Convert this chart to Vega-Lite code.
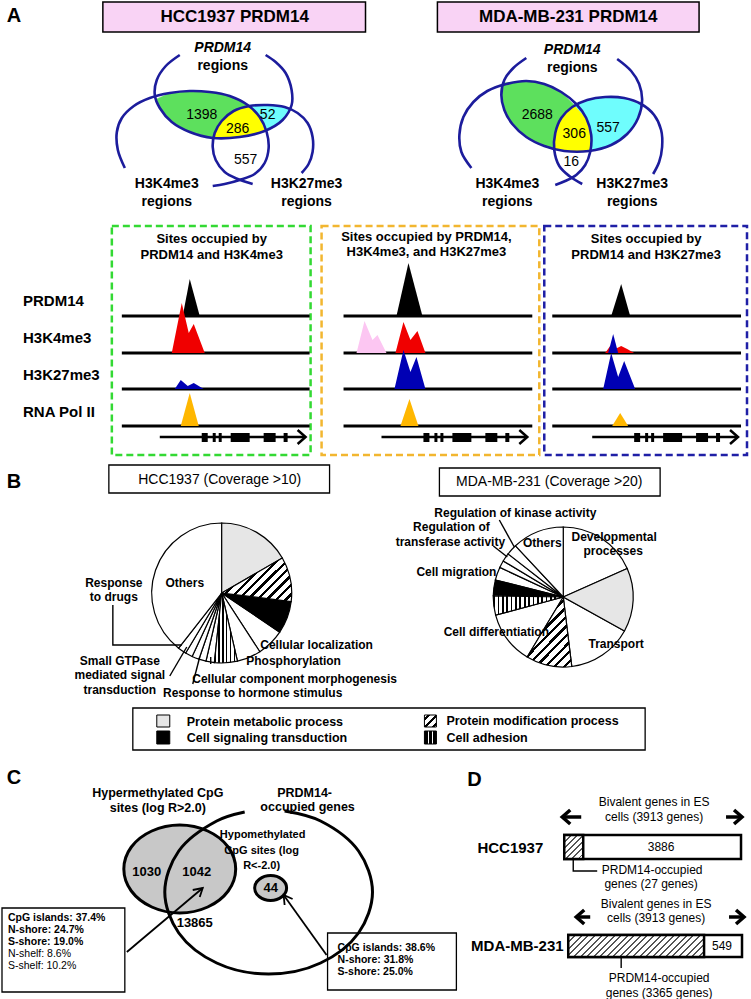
{
"$schema": "https://vega.github.io/schema/vega-lite/v6.json",
"width": 751, "height": 999,
"autosize": {"type": "fit", "contains": "padding"},
"padding": 0,
"background": "white",
"config": {"view": {"stroke": null}, "font": "Liberation Sans"},
"datasets": {
"tx": [
{"t":"A","x":14,"y":16,"k":"A"},{"t":"B","x":14,"y":482,"k":"A"},{"t":"C","x":14,"y":778,"k":"A"},{"t":"D","x":475,"y":780,"k":"A"},
{"t":"HCC1937 PRDM14","x":235,"y":17,"k":"T"},{"t":"MDA-MB-231 PRDM14","x":569,"y":17,"k":"T"},
{"t":"PRDM14","x":223,"y":48,"k":"VI"},{"t":"PRDM14","x":573,"y":50,"k":"VI"},
{"t":"regions","x":223,"y":66,"k":"VB"},{"t":"regions","x":573,"y":68,"k":"VB"},
{"t":"H3K4me3","x":167,"y":184,"k":"VB"},{"t":"regions","x":167,"y":202,"k":"VB"},
{"t":"H3K27me3","x":307,"y":184,"k":"VB"},{"t":"regions","x":307,"y":202,"k":"VB"},
{"t":"H3K4me3","x":508,"y":184,"k":"VB"},{"t":"regions","x":508,"y":202,"k":"VB"},
{"t":"H3K27me3","x":633,"y":184,"k":"VB"},{"t":"regions","x":633,"y":202,"k":"VB"},
{"t":"1398","x":202,"y":115,"k":"VN"},{"t":"286","x":238,"y":129,"k":"VN"},{"t":"52","x":268,"y":115,"k":"VN"},{"t":"557","x":246,"y":160,"k":"VN"},
{"t":"2688","x":538,"y":115,"k":"VN"},{"t":"306","x":575,"y":134,"k":"VN"},{"t":"557","x":609,"y":128,"k":"VN"},{"t":"16","x":572,"y":162,"k":"VN"},
{"t":"Sites occupied by","x":212,"y":239,"k":"ST"},{"t":"PRDM14 and H3K4me3","x":212,"y":255,"k":"ST"},
{"t":"Sites occupied by PRDM14,","x":427,"y":237,"k":"ST"},{"t":"H3K4me3, and H3K27me3","x":427,"y":252,"k":"ST"},
{"t":"Sites occupied by","x":647,"y":239,"k":"ST"},{"t":"PRDM14 and H3K27me3","x":647,"y":255,"k":"ST"},
{"t":"PRDM14","x":23,"y":301,"k":"TL"},{"t":"H3K4me3","x":23,"y":338,"k":"TL"},{"t":"H3K27me3","x":23,"y":375,"k":"TL"},{"t":"RNA Pol II","x":23,"y":412,"k":"TL"},
{"t":"HCC1937  (Coverage >10)","x":220,"y":480,"k":"BB"},{"t":"MDA-MB-231 (Coverage >20)","x":550,"y":482,"k":"BB"},
{"t":"Others","x":185,"y":583,"k":"PL"},{"t":"Response","x":114,"y":583,"k":"PL"},{"t":"to drugs","x":114,"y":597,"k":"PL"},
{"t":"Cellular localization","x":317,"y":645,"k":"PL"},{"t":"Phosphorylation","x":294,"y":661,"k":"PL"},
{"t":"Small GTPase","x":120,"y":661,"k":"PL"},{"t":"mediated signal","x":120,"y":675,"k":"PL"},{"t":"transduction","x":120,"y":690,"k":"PL"},
{"t":"Cellular component morphogenesis","x":295,"y":679,"k":"PL"},{"t":"Response to hormone stimulus","x":253,"y":693,"k":"PL"},
{"t":"Regulation of kinase activity","x":516,"y":513,"k":"PL"},{"t":"Regulation of","x":452,"y":527,"k":"PL"},{"t":"transferase activity","x":451,"y":542,"k":"PL"},
{"t":"Others","x":543,"y":543,"k":"PL"},{"t":"Developmental","x":615,"y":537,"k":"PL"},{"t":"processes","x":614,"y":551,"k":"PL"},
{"t":"Cell migration","x":457,"y":572,"k":"PL"},{"t":"Cell differentiation","x":497,"y":632,"k":"PL"},{"t":"Transport","x":617,"y":644,"k":"PL"},
{"t":"Protein metabolic process","x":187,"y":722,"k":"LG"},{"t":"Cell signaling transduction","x":187,"y":738,"k":"LG"},
{"t":"Protein modification process","x":447,"y":721,"k":"LG"},{"t":"Cell adhesion","x":447,"y":738,"k":"LG"},
{"t":"Hypermethylated CpG","x":158,"y":793,"k":"CH"},{"t":"sites (log R>2.0)","x":158,"y":808,"k":"CH"},
{"t":"PRDM14-","x":305,"y":793,"k":"CH"},{"t":"occupied genes","x":308,"y":807,"k":"CH"},
{"t":"Hypomethylated","x":263,"y":835,"k":"CS"},{"t":"CpG sites (log","x":262,"y":851,"k":"CS"},{"t":"R<-2.0)","x":262,"y":866,"k":"CS"},
{"t":"1030","x":147,"y":872,"k":"CN"},{"t":"1042","x":197,"y":872,"k":"CN"},{"t":"13865","x":195,"y":923,"k":"CN"},{"t":"44","x":271,"y":888,"k":"CN"},
{"t":"CpG islands: 37.4%","x":8,"y":918,"k":"CB"},{"t":"N-shore: 24.7%","x":8,"y":930,"k":"CB"},{"t":"S-shore: 19.0%","x":8,"y":942,"k":"CB"},
{"t":"N-shelf: 8.6%","x":8,"y":954,"k":"CR"},{"t":"S-shelf: 10.2%","x":8,"y":966,"k":"CR"},
{"t":"CpG islands: 38.6%","x":338,"y":948,"k":"CB"},{"t":"N-shore: 31.8%","x":338,"y":960,"k":"CB"},{"t":"S-shore: 25.0%","x":338,"y":972,"k":"CB"},
{"t":"Bivalent genes in ES","x":655,"y":802,"k":"DR"},{"t":"cells (3913 genes)","x":655,"y":817,"k":"DR"},{"t":"3886","x":662,"y":847,"k":"DR"},
{"t":"PRDM14-occupied","x":653,"y":870,"k":"DR"},{"t":"genes (27 genes)","x":652,"y":884,"k":"DR"},
{"t":"Bivalent genes in ES","x":657,"y":904,"k":"DR"},{"t":"cells (3913 genes)","x":657,"y":918,"k":"DR"},{"t":"549","x":723,"y":946,"k":"DR"},
{"t":"PRDM14-occupied","x":660,"y":978,"k":"DR"},{"t":"genes (3365 genes)","x":660,"y":993,"k":"DR"},
{"t":"HCC1937","x":511,"y":848,"k":"DB"},{"t":"MDA-MB-231","x":518,"y":946,"k":"DB"}
],
"rc": [
{"k":"pink","x":103,"x2":366,"y":2,"y2":32},{"k":"pink","x":438,"x2":700,"y":2,"y2":32},
{"k":"dg","x":112,"x2":311,"y":226,"y2":455},{"k":"do","x":322,"x2":540,"y":226,"y2":455},{"k":"db","x":545,"x2":748,"y":226,"y2":455},
{"k":"box","x":109,"x2":330,"y":465,"y2":493},{"k":"box","x":440,"x2":661,"y":468,"y2":496},
{"k":"box","x":2,"x2":125,"y":908,"y2":992},{"k":"box","x":328,"x2":457,"y":933,"y2":990},
{"k":"lbox","x":133,"x2":646,"y":708,"y2":750},
{"k":"exon","x":202,"x2":208,"y":433,"y2":442},{"k":"exon","x":213,"x2":216,"y":433,"y2":442},{"k":"exon","x":219,"x2":222,"y":433,"y2":442},
{"k":"exon","x":231,"x2":250,"y":433,"y2":442},{"k":"exon","x":264,"x2":276,"y":433,"y2":442},{"k":"exon","x":284,"x2":288,"y":433,"y2":442},
{"k":"exon","x":424,"x2":430,"y":433,"y2":442},{"k":"exon","x":435,"x2":438,"y":433,"y2":442},{"k":"exon","x":441,"x2":444,"y":433,"y2":442},
{"k":"exon","x":453,"x2":472,"y":433,"y2":442},{"k":"exon","x":486,"x2":498,"y":433,"y2":442},{"k":"exon","x":506,"x2":510,"y":433,"y2":442},
{"k":"exon","x":635,"x2":641,"y":433,"y2":442},{"k":"exon","x":646,"x2":649,"y":433,"y2":442},{"k":"exon","x":652,"x2":655,"y":433,"y2":442},
{"k":"exon","x":664,"x2":683,"y":433,"y2":442},{"k":"exon","x":697,"x2":709,"y":433,"y2":442},{"k":"exon","x":717,"x2":721,"y":433,"y2":442},
{"k":"bar","x":565,"x2":742,"y":835,"y2":859},{"k":"bar","x":569,"x2":743,"y":935,"y2":957},
{"k":"dh1","x":565,"x2":584,"y":835,"y2":859},{"k":"dh2","x":569,"x2":705,"y":935,"y2":957},
{"k":"sdot","x":157,"x2":170,"y":715,"y2":727},{"k":"sblk","x":157,"x2":170,"y":731,"y2":744},
{"k":"shat","x":425,"x2":437,"y":715,"y2":727},{"k":"sstr","x":425,"x2":437,"y":731,"y2":744}
],
"rl": [
{"k":"trk","x":122,"x2":310,"y":316,"y2":316},{"k":"trk","x":122,"x2":310,"y":353,"y2":353},{"k":"trk","x":122,"x2":310,"y":389,"y2":389},{"k":"trk","x":122,"x2":310,"y":426,"y2":426},
{"k":"trk","x":344,"x2":533,"y":316,"y2":316},{"k":"trk","x":344,"x2":533,"y":353,"y2":353},{"k":"trk","x":344,"x2":533,"y":389,"y2":389},{"k":"trk","x":344,"x2":533,"y":426,"y2":426},
{"k":"trk","x":553,"x2":742,"y":316,"y2":316},{"k":"trk","x":553,"x2":742,"y":353,"y2":353},{"k":"trk","x":553,"x2":742,"y":389,"y2":389},{"k":"trk","x":553,"x2":742,"y":426,"y2":426},
{"k":"gene","x":160,"x2":305,"y":437,"y2":437},{"k":"gene","x":382,"x2":527,"y":437,"y2":437},{"k":"gene","x":593,"x2":738,"y":437,"y2":437},
{"k":"lead","x":170,"x2":187,"y":676,"y2":647},{"k":"lead","x":193,"x2":200,"y":684,"y2":657},{"k":"lead","x":211,"x2":211,"y":657,"y2":664},
{"k":"lead","x":500,"x2":515,"y":520,"y2":547},{"k":"lead","x":494,"x2":508,"y":546,"y2":557},{"k":"lead","x":622,"x2":622,"y":946,"y2":968},
{"k":"arr","x":127,"x2":203,"y":952,"y2":888},{"k":"arr","x":327,"x2":284,"y":955,"y2":895},
{"k":"darr","x":563,"x2":582,"y":817,"y2":817},{"k":"darr","x":727,"x2":743,"y":817,"y2":817},{"k":"darr","x":577,"x2":591,"y":917,"y2":917},{"k":"darr","x":730,"x2":745,"y":917,"y2":917}
],
"pl": [
{"s":"L1","o":1,"x":180,"y":55,"k":"v"},{"s":"L1","o":2,"x":166,"y":66,"k":"v"},{"s":"L1","o":3,"x":157,"y":80,"k":"v"},{"s":"L1","o":4,"x":155,"y":95,"k":"v"},{"s":"L1","o":5,"x":160,"y":108,"k":"v"},{"s":"L1","o":6,"x":172,"y":122,"k":"v"},{"s":"L1","o":7,"x":190,"y":132,"k":"v"},{"s":"L1","o":8,"x":213,"y":138,"k":"v"},{"s":"L1","o":9,"x":240,"y":137,"k":"v"},{"s":"L1","o":10,"x":265,"y":131,"k":"v"},{"s":"L1","o":11,"x":283,"y":120,"k":"v"},{"s":"L1","o":12,"x":292,"y":105,"k":"v"},{"s":"L1","o":13,"x":292,"y":90,"k":"v"},{"s":"L1","o":14,"x":286,"y":73,"k":"v"},{"s":"L1","o":15,"x":276,"y":62,"k":"v"},{"s":"L1","o":16,"x":266,"y":55,"k":"v"},
{"s":"L2","o":1,"x":125,"y":168,"k":"v"},{"s":"L2","o":2,"x":118,"y":150,"k":"v"},{"s":"L2","o":3,"x":117,"y":132,"k":"v"},{"s":"L2","o":4,"x":122,"y":118,"k":"v"},{"s":"L2","o":5,"x":134,"y":106,"k":"v"},{"s":"L2","o":6,"x":150,"y":98,"k":"v"},{"s":"L2","o":7,"x":170,"y":93,"k":"v"},{"s":"L2","o":8,"x":190,"y":91,"k":"v"},{"s":"L2","o":9,"x":210,"y":92,"k":"v"},{"s":"L2","o":10,"x":230,"y":96,"k":"v"},{"s":"L2","o":11,"x":248,"y":105,"k":"v"},{"s":"L2","o":12,"x":260,"y":117,"k":"v"},{"s":"L2","o":13,"x":267,"y":132,"k":"v"},{"s":"L2","o":14,"x":269,"y":148,"k":"v"},{"s":"L2","o":15,"x":265,"y":163,"k":"v"},{"s":"L2","o":16,"x":255,"y":174,"k":"v"},{"s":"L2","o":17,"x":240,"y":180,"k":"v"},{"s":"L2","o":18,"x":225,"y":184,"k":"v"},{"s":"L2","o":19,"x":213,"y":186,"k":"v"},
{"s":"L3","o":1,"x":253,"y":184,"k":"v"},{"s":"L3","o":2,"x":238,"y":179,"k":"v"},{"s":"L3","o":3,"x":225,"y":172,"k":"v"},{"s":"L3","o":4,"x":216,"y":160,"k":"v"},{"s":"L3","o":5,"x":213,"y":147,"k":"v"},{"s":"L3","o":6,"x":215,"y":133,"k":"v"},{"s":"L3","o":7,"x":222,"y":121,"k":"v"},{"s":"L3","o":8,"x":234,"y":111,"k":"v"},{"s":"L3","o":9,"x":250,"y":106,"k":"v"},{"s":"L3","o":10,"x":268,"y":105,"k":"v"},{"s":"L3","o":11,"x":285,"y":107,"k":"v"},{"s":"L3","o":12,"x":298,"y":113,"k":"v"},{"s":"L3","o":13,"x":308,"y":123,"k":"v"},{"s":"L3","o":14,"x":313,"y":137,"k":"v"},{"s":"L3","o":15,"x":313,"y":152,"k":"v"},{"s":"L3","o":16,"x":309,"y":164,"k":"v"},{"s":"L3","o":17,"x":302,"y":173,"k":"v"},
{"s":"R1","o":1,"x":527,"y":58,"k":"v"},{"s":"R1","o":2,"x":514,"y":68,"k":"v"},{"s":"R1","o":3,"x":505,"y":80,"k":"v"},{"s":"R1","o":4,"x":502,"y":95,"k":"v"},{"s":"R1","o":5,"x":505,"y":110,"k":"v"},{"s":"R1","o":6,"x":513,"y":124,"k":"v"},{"s":"R1","o":7,"x":527,"y":137,"k":"v"},{"s":"R1","o":8,"x":545,"y":146,"k":"v"},{"s":"R1","o":9,"x":565,"y":151,"k":"v"},{"s":"R1","o":10,"x":590,"y":151,"k":"v"},{"s":"R1","o":11,"x":612,"y":145,"k":"v"},{"s":"R1","o":12,"x":628,"y":134,"k":"v"},{"s":"R1","o":13,"x":639,"y":118,"k":"v"},{"s":"R1","o":14,"x":643,"y":100,"k":"v"},{"s":"R1","o":15,"x":640,"y":84,"k":"v"},{"s":"R1","o":16,"x":632,"y":71,"k":"v"},{"s":"R1","o":17,"x":618,"y":59,"k":"v"},
{"s":"R2","o":1,"x":472,"y":168,"k":"v"},{"s":"R2","o":2,"x":462,"y":152,"k":"v"},{"s":"R2","o":3,"x":460,"y":135,"k":"v"},{"s":"R2","o":4,"x":464,"y":117,"k":"v"},{"s":"R2","o":5,"x":474,"y":102,"k":"v"},{"s":"R2","o":6,"x":488,"y":91,"k":"v"},{"s":"R2","o":7,"x":507,"y":84,"k":"v"},{"s":"R2","o":8,"x":527,"y":81,"k":"v"},{"s":"R2","o":9,"x":545,"y":84,"k":"v"},{"s":"R2","o":10,"x":562,"y":92,"k":"v"},{"s":"R2","o":11,"x":577,"y":104,"k":"v"},{"s":"R2","o":12,"x":587,"y":118,"k":"v"},{"s":"R2","o":13,"x":592,"y":135,"k":"v"},{"s":"R2","o":14,"x":591,"y":152,"k":"v"},{"s":"R2","o":15,"x":586,"y":165,"k":"v"},{"s":"R2","o":16,"x":577,"y":175,"k":"v"},{"s":"R2","o":17,"x":566,"y":181,"k":"v"},{"s":"R2","o":18,"x":556,"y":185,"k":"v"},
{"s":"R3","o":1,"x":583,"y":184,"k":"v"},{"s":"R3","o":2,"x":570,"y":176,"k":"v"},{"s":"R3","o":3,"x":560,"y":166,"k":"v"},{"s":"R3","o":4,"x":555,"y":150,"k":"v"},{"s":"R3","o":5,"x":556,"y":133,"k":"v"},{"s":"R3","o":6,"x":562,"y":118,"k":"v"},{"s":"R3","o":7,"x":573,"y":107,"k":"v"},{"s":"R3","o":8,"x":588,"y":100,"k":"v"},{"s":"R3","o":9,"x":606,"y":97,"k":"v"},{"s":"R3","o":10,"x":625,"y":98,"k":"v"},{"s":"R3","o":11,"x":642,"y":104,"k":"v"},{"s":"R3","o":12,"x":655,"y":115,"k":"v"},{"s":"R3","o":13,"x":662,"y":130,"k":"v"},{"s":"R3","o":14,"x":663,"y":147,"k":"v"},{"s":"R3","o":15,"x":660,"y":162,"k":"v"},{"s":"R3","o":16,"x":654,"y":174,"k":"v"},
{"s":"Lg","o":1,"x":157,"y":99,"k":"g"},{"s":"Lg","o":2,"x":170,"y":93,"k":"g"},{"s":"Lg","o":3,"x":190,"y":91,"k":"g"},{"s":"Lg","o":4,"x":210,"y":92,"k":"g"},{"s":"Lg","o":5,"x":230,"y":96,"k":"g"},{"s":"Lg","o":6,"x":249,"y":105,"k":"g"},{"s":"Lg","o":7,"x":234,"y":111,"k":"g"},{"s":"Lg","o":8,"x":222,"y":121,"k":"g"},{"s":"Lg","o":9,"x":215,"y":133,"k":"g"},{"s":"Lg","o":10,"x":214,"y":138,"k":"g"},{"s":"Lg","o":11,"x":190,"y":132,"k":"g"},{"s":"Lg","o":12,"x":172,"y":122,"k":"g"},{"s":"Lg","o":13,"x":160,"y":108,"k":"g"},
{"s":"Ly","o":1,"x":249,"y":105,"k":"y"},{"s":"Ly","o":2,"x":260,"y":117,"k":"y"},{"s":"Ly","o":3,"x":266,"y":131,"k":"y"},{"s":"Ly","o":4,"x":240,"y":137,"k":"y"},{"s":"Ly","o":5,"x":214,"y":138,"k":"y"},{"s":"Ly","o":6,"x":215,"y":133,"k":"y"},{"s":"Ly","o":7,"x":222,"y":121,"k":"y"},{"s":"Ly","o":8,"x":234,"y":111,"k":"y"},
{"s":"Lc","o":1,"x":249,"y":105,"k":"c"},{"s":"Lc","o":2,"x":268,"y":105,"k":"c"},{"s":"Lc","o":3,"x":285,"y":107,"k":"c"},{"s":"Lc","o":4,"x":290,"y":110,"k":"c"},{"s":"Lc","o":5,"x":283,"y":120,"k":"c"},{"s":"Lc","o":6,"x":266,"y":131,"k":"c"},{"s":"Lc","o":7,"x":260,"y":117,"k":"c"},
{"s":"Rg","o":1,"x":504,"y":83,"k":"g"},{"s":"Rg","o":2,"x":527,"y":81,"k":"g"},{"s":"Rg","o":3,"x":545,"y":84,"k":"g"},{"s":"Rg","o":4,"x":562,"y":92,"k":"g"},{"s":"Rg","o":5,"x":575,"y":105,"k":"g"},{"s":"Rg","o":6,"x":563,"y":117,"k":"g"},{"s":"Rg","o":7,"x":556,"y":133,"k":"g"},{"s":"Rg","o":8,"x":555,"y":149,"k":"g"},{"s":"Rg","o":9,"x":545,"y":146,"k":"g"},{"s":"Rg","o":10,"x":527,"y":137,"k":"g"},{"s":"Rg","o":11,"x":513,"y":124,"k":"g"},{"s":"Rg","o":12,"x":505,"y":110,"k":"g"},{"s":"Rg","o":13,"x":502,"y":95,"k":"g"},
{"s":"Ry","o":1,"x":575,"y":105,"k":"y"},{"s":"Ry","o":2,"x":587,"y":118,"k":"y"},{"s":"Ry","o":3,"x":592,"y":135,"k":"y"},{"s":"Ry","o":4,"x":591,"y":151,"k":"y"},{"s":"Ry","o":5,"x":575,"y":151,"k":"y"},{"s":"Ry","o":6,"x":555,"y":149,"k":"y"},{"s":"Ry","o":7,"x":556,"y":133,"k":"y"},{"s":"Ry","o":8,"x":563,"y":117,"k":"y"},
{"s":"Rc","o":1,"x":575,"y":105,"k":"c"},{"s":"Rc","o":2,"x":588,"y":100,"k":"c"},{"s":"Rc","o":3,"x":606,"y":97,"k":"c"},{"s":"Rc","o":4,"x":625,"y":98,"k":"c"},{"s":"Rc","o":5,"x":642,"y":105,"k":"c"},{"s":"Rc","o":6,"x":639,"y":118,"k":"c"},{"s":"Rc","o":7,"x":628,"y":134,"k":"c"},{"s":"Rc","o":8,"x":612,"y":145,"k":"c"},{"s":"Rc","o":9,"x":591,"y":151,"k":"c"},{"s":"Rc","o":10,"x":592,"y":135,"k":"c"},{"s":"Rc","o":11,"x":587,"y":118,"k":"c"},
{"s":"cL","o":1,"x":298,"y":430,"k":"gene"},{"s":"cL","o":2,"x":306,"y":437,"k":"gene"},{"s":"cL","o":3,"x":298,"y":444,"k":"gene"},
{"s":"cO","o":1,"x":520,"y":430,"k":"gene"},{"s":"cO","o":2,"x":528,"y":437,"k":"gene"},{"s":"cO","o":3,"x":520,"y":444,"k":"gene"},
{"s":"cB","o":1,"x":731,"y":430,"k":"gene"},{"s":"cB","o":2,"x":739,"y":437,"k":"gene"},{"s":"cB","o":3,"x":731,"y":444,"k":"gene"},
{"s":"a1h","o":1,"x":193,"y":890,"k":"arr"},{"s":"a1h","o":2,"x":203,"y":888,"k":"arr"},{"s":"a1h","o":3,"x":200,"y":897,"k":"arr"},
{"s":"a2h","o":1,"x":285,"y":905,"k":"arr"},{"s":"a2h","o":2,"x":284,"y":895,"k":"arr"},{"s":"a2h","o":3,"x":293,"y":899,"k":"arr"},
{"s":"d1","o":1,"x":571,"y":810,"k":"darr"},{"s":"d1","o":2,"x":563,"y":817,"k":"darr"},{"s":"d1","o":3,"x":571,"y":824,"k":"darr"},
{"s":"d2","o":1,"x":735,"y":810,"k":"darr"},{"s":"d2","o":2,"x":743,"y":817,"k":"darr"},{"s":"d2","o":3,"x":735,"y":824,"k":"darr"},
{"s":"d3","o":1,"x":585,"y":910,"k":"darr"},{"s":"d3","o":2,"x":577,"y":917,"k":"darr"},{"s":"d3","o":3,"x":585,"y":924,"k":"darr"},
{"s":"d4","o":1,"x":737,"y":910,"k":"darr"},{"s":"d4","o":2,"x":745,"y":917,"k":"darr"},{"s":"d4","o":3,"x":737,"y":924,"k":"darr"},
{"s":"e1","o":1,"x":113,"y":605,"k":"lead"},{"s":"e1","o":2,"x":113,"y":645,"k":"lead"},{"s":"e1","o":3,"x":182,"y":645,"k":"lead"},
{"s":"e2","o":1,"x":574,"y":859,"k":"lead"},{"s":"e2","o":2,"x":574,"y":871,"k":"lead"},{"s":"e2","o":3,"x":598,"y":871,"k":"lead"},
{"s":"G","o":1,"x":236,"y":869,"k":"gell"},{"s":"G","o":2,"x":228.5,"y":891,"k":"gell"},{"s":"G","o":3,"x":208,"y":907,"k":"gell"},{"s":"G","o":4,"x":180,"y":913,"k":"gell"},{"s":"G","o":5,"x":152,"y":907,"k":"gell"},{"s":"G","o":6,"x":131.5,"y":891,"k":"gell"},{"s":"G","o":7,"x":124,"y":869,"k":"gell"},{"s":"G","o":8,"x":131.5,"y":847,"k":"gell"},{"s":"G","o":9,"x":152,"y":831,"k":"gell"},{"s":"G","o":10,"x":180,"y":825,"k":"gell"},{"s":"G","o":11,"x":208,"y":831,"k":"gell"},{"s":"G","o":12,"x":228.5,"y":847,"k":"gell"},
{"s":"S","o":1,"x":287,"y":888,"k":"sell"},{"s":"S","o":2,"x":282.3,"y":896.8,"k":"sell"},{"s":"S","o":3,"x":271,"y":900.5,"k":"sell"},{"s":"S","o":4,"x":259.7,"y":896.8,"k":"sell"},{"s":"S","o":5,"x":255,"y":888,"k":"sell"},{"s":"S","o":6,"x":259.7,"y":879.2,"k":"sell"},{"s":"S","o":7,"x":271,"y":875.5,"k":"sell"},{"s":"S","o":8,"x":282.3,"y":879.2,"k":"sell"},
{"s":"E","o":1,"x":245,"y":812,"k":"ell"},{"s":"E","o":2,"x":217,"y":821,"k":"ell"},{"s":"E","o":3,"x":179,"y":851,"k":"ell"},{"s":"E","o":4,"x":165,"y":892,"k":"ell"},{"s":"E","o":5,"x":179,"y":933,"k":"ell"},{"s":"E","o":6,"x":217,"y":963,"k":"ell"},{"s":"E","o":7,"x":269,"y":974,"k":"ell"},{"s":"E","o":8,"x":321,"y":963,"k":"ell"},{"s":"E","o":9,"x":359,"y":933,"k":"ell"},{"s":"E","o":10,"x":373,"y":892,"k":"ell"},{"s":"E","o":11,"x":359,"y":851,"k":"ell"},{"s":"E","o":12,"x":321,"y":821,"k":"ell"},{"s":"E","o":13,"x":285,"y":811,"k":"ell"}
],
"pk": [
{"s":"k1","c":"k","x":183,"y":316,"b":316},{"s":"k1","c":"k","x":190,"y":279,"b":316},{"s":"k1","c":"k","x":200,"y":316,"b":316},
{"s":"k2","c":"k","x":397,"y":316,"b":316},{"s":"k2","c":"k","x":409,"y":263,"b":316},{"s":"k2","c":"k","x":423,"y":316,"b":316},
{"s":"k3","c":"k","x":612,"y":316,"b":316},{"s":"k3","c":"k","x":622,"y":284,"b":316},{"s":"k3","c":"k","x":631,"y":316,"b":316},
{"s":"r1","c":"r","x":172,"y":353,"b":353},{"s":"r1","c":"r","x":182,"y":303,"b":353},{"s":"r1","c":"r","x":189,"y":333,"b":353},{"s":"r1","c":"r","x":194,"y":324,"b":353},{"s":"r1","c":"r","x":205,"y":353,"b":353},
{"s":"p2","c":"p","x":357,"y":353,"b":353},{"s":"p2","c":"p","x":365,"y":321,"b":353},{"s":"p2","c":"p","x":373,"y":340,"b":353},{"s":"p2","c":"p","x":378,"y":335,"b":353},{"s":"p2","c":"p","x":387,"y":353,"b":353},
{"s":"r2","c":"r","x":396,"y":353,"b":353},{"s":"r2","c":"r","x":404,"y":322,"b":353},{"s":"r2","c":"r","x":411,"y":340,"b":353},{"s":"r2","c":"r","x":418,"y":331,"b":353},{"s":"r2","c":"r","x":426,"y":353,"b":353},
{"s":"r3","c":"r","x":606,"y":353,"b":353},{"s":"r3","c":"r","x":611,"y":346,"b":353},{"s":"r3","c":"r","x":616,"y":349,"b":353},{"s":"r3","c":"r","x":622,"y":346,"b":353},{"s":"r3","c":"r","x":628,"y":349,"b":353},{"s":"r3","c":"r","x":635,"y":353,"b":353},
{"s":"b3a","c":"b","x":609,"y":353,"b":353},{"s":"b3a","c":"b","x":614,"y":334,"b":353},{"s":"b3a","c":"b","x":619,"y":353,"b":353},
{"s":"b1","c":"b","x":175,"y":389,"b":389},{"s":"b1","c":"b","x":181,"y":380,"b":389},{"s":"b1","c":"b","x":188,"y":386,"b":389},{"s":"b1","c":"b","x":194,"y":383,"b":389},{"s":"b1","c":"b","x":204,"y":389,"b":389},
{"s":"b2","c":"b","x":395,"y":389,"b":389},{"s":"b2","c":"b","x":404,"y":350,"b":389},{"s":"b2","c":"b","x":411,"y":372,"b":389},{"s":"b2","c":"b","x":417,"y":357,"b":389},{"s":"b2","c":"b","x":426,"y":389,"b":389},
{"s":"b3","c":"b","x":604,"y":389,"b":389},{"s":"b3","c":"b","x":612,"y":353,"b":389},{"s":"b3","c":"b","x":619,"y":377,"b":389},{"s":"b3","c":"b","x":625,"y":361,"b":389},{"s":"b3","c":"b","x":636,"y":389,"b":389},
{"s":"o1","c":"o","x":181,"y":426,"b":426},{"s":"o1","c":"o","x":190,"y":393,"b":426},{"s":"o1","c":"o","x":199,"y":426,"b":426},
{"s":"o2","c":"o","x":401,"y":426,"b":426},{"s":"o2","c":"o","x":410,"y":399,"b":426},{"s":"o2","c":"o","x":419,"y":426,"b":426},
{"s":"o3","c":"o","x":613,"y":426,"b":426},{"s":"o3","c":"o","x":621,"y":413,"b":426},{"s":"o3","c":"o","x":629,"y":426,"b":426}
],
"pie": [
{"pie":"L","x":222,"y":593,"a0":0,"a1":60,"p":"d"},{"pie":"L","x":222,"y":593,"a0":60,"a1":97,"p":"h"},{"pie":"L","x":222,"y":593,"a0":97,"a1":124,"p":"k"},
{"pie":"L","x":222,"y":593,"a0":124,"a1":147,"p":"w"},{"pie":"L","x":222,"y":593,"a0":147,"a1":167,"p":"w"},{"pie":"L","x":222,"y":593,"a0":167,"a1":186,"p":"s"},
{"pie":"L","x":222,"y":593,"a0":186,"a1":193,"p":"w"},{"pie":"L","x":222,"y":593,"a0":193,"a1":199,"p":"w"},{"pie":"L","x":222,"y":593,"a0":199,"a1":205,"p":"w"},
{"pie":"L","x":222,"y":593,"a0":205,"a1":211,"p":"w"},{"pie":"L","x":222,"y":593,"a0":211,"a1":218,"p":"w"},{"pie":"L","x":222,"y":593,"a0":218,"a1":360,"p":"w"},
{"pie":"R","x":564,"y":597,"a0":0,"a1":66,"p":"w"},{"pie":"R","x":564,"y":597,"a0":66,"a1":119,"p":"d"},{"pie":"R","x":564,"y":597,"a0":119,"a1":173,"p":"w"},
{"pie":"R","x":564,"y":597,"a0":173,"a1":211,"p":"h"},{"pie":"R","x":564,"y":597,"a0":211,"a1":255,"p":"w"},{"pie":"R","x":564,"y":597,"a0":255,"a1":271,"p":"s"},
{"pie":"R","x":564,"y":597,"a0":271,"a1":284,"p":"k"},{"pie":"R","x":564,"y":597,"a0":284,"a1":295,"p":"w"},{"pie":"R","x":564,"y":597,"a0":295,"a1":301,"p":"w"},
{"pie":"R","x":564,"y":597,"a0":301,"a1":308,"p":"w"},{"pie":"R","x":564,"y":597,"a0":308,"a1":317,"p":"w"},{"pie":"R","x":564,"y":597,"a0":317,"a1":360,"p":"w"}
]
},
"encoding": {
"x": {"field":"x","type":"quantitative","scale":{"domain":[0,751],"nice":false,"zero":false},"axis":null},
"y": {"field":"y","type":"quantitative","scale":{"domain":[0,999],"nice":false,"zero":false,"reverse":true},"axis":null}
},
"layer": [
{"data":{"name":"rc"},"transform":[{"filter":"datum.k=='pink'"}],"mark":{"type":"rect","fill":"#f9d3f5","stroke":"#000","strokeWidth":1.5},"encoding":{"x2":{"field":"x2"},"y2":{"field":"y2"}}},
{"data":{"name":"rc"},"transform":[{"filter":"datum.k=='dg'||datum.k=='do'||datum.k=='db'"}],"mark":{"type":"rect","filled":false,"strokeDash":[7,4],"strokeWidth":2.5},"encoding":{"x2":{"field":"x2"},"y2":{"field":"y2"},"stroke":{"field":"k","type":"nominal","scale":{"domain":["dg","do","db"],"range":["#33d933","#f2b630","#1f1fa6"]},"legend":null}}},
{"data":{"name":"rc"},"transform":[{"filter":"datum.k=='box'"}],"mark":{"type":"rect","fill":"#fff","stroke":"#000","strokeWidth":1.3},"encoding":{"x2":{"field":"x2"},"y2":{"field":"y2"}}},
{"data":{"name":"rc"},"transform":[{"filter":"datum.k=='lbox'"}],"mark":{"type":"rect","filled":false,"stroke":"#000","strokeWidth":1.3},"encoding":{"x2":{"field":"x2"},"y2":{"field":"y2"}}},
{"data":{"name":"rc"},"transform":[{"filter":"datum.k=='bar'"}],"mark":{"type":"rect","fill":"#fff","stroke":"#000","strokeWidth":2.5},"encoding":{"x2":{"field":"x2"},"y2":{"field":"y2"}}},
{"data":{"name":"pl"},"transform":[{"filter":"datum.k=='g'"}],"mark":{"type":"line","interpolate":"linear-closed","fill":"#5de05d","stroke":"#5de05d","strokeWidth":0.5},"encoding":{"order":{"field":"o","type":"quantitative"},"detail":{"field":"s"}}},
{"data":{"name":"pl"},"transform":[{"filter":"datum.k=='y'"}],"mark":{"type":"line","interpolate":"linear-closed","fill":"#ffff00","stroke":"#ffff00","strokeWidth":0.5},"encoding":{"order":{"field":"o","type":"quantitative"},"detail":{"field":"s"}}},
{"data":{"name":"pl"},"transform":[{"filter":"datum.k=='c'"}],"mark":{"type":"line","interpolate":"linear-closed","fill":"#6ffdfd","stroke":"#6ffdfd","strokeWidth":0.5},"encoding":{"order":{"field":"o","type":"quantitative"},"detail":{"field":"s"}}},
{"data":{"name":"pl"},"transform":[{"filter":"datum.k=='v'"}],"mark":{"type":"line","interpolate":"catmull-rom","color":"#1c1c9c","strokeWidth":2.6},"encoding":{"order":{"field":"o","type":"quantitative"},"detail":{"field":"s"}}},
{"data":{"name":"rl"},"transform":[{"filter":"datum.k=='trk'"}],"mark":{"type":"rule","color":"#000","strokeWidth":3},"encoding":{"x2":{"field":"x2"},"y2":{"field":"y2"}}},
{"data":{"name":"rl"},"transform":[{"filter":"datum.k=='gene'"}],"mark":{"type":"rule","color":"#000","strokeWidth":2.5},"encoding":{"x2":{"field":"x2"},"y2":{"field":"y2"}}},
{"data":{"name":"rc"},"transform":[{"filter":"datum.k=='exon'"}],"mark":{"type":"rect","fill":"#000"},"encoding":{"x2":{"field":"x2"},"y2":{"field":"y2"}}},
{"data":{"name":"pl"},"transform":[{"filter":"datum.k=='gene'"}],"mark":{"type":"line","color":"#000","strokeWidth":2.5},"encoding":{"order":{"field":"o","type":"quantitative"},"detail":{"field":"s"}}},
{"data":{"name":"pk"},"transform":[{"filter":"datum.c=='k'"}],"mark":{"type":"area","color":"#000"},"encoding":{"y":{"field":"y","type":"quantitative","stack":null,"scale":{"domain":[0,999],"nice":false,"zero":false,"reverse":true},"axis":null},"y2":{"field":"b"},"detail":{"field":"s"}}},
{"data":{"name":"pk"},"transform":[{"filter":"datum.c=='p'"}],"mark":{"type":"area","color":"#fcc6f2"},"encoding":{"y":{"field":"y","type":"quantitative","stack":null,"scale":{"domain":[0,999],"nice":false,"zero":false,"reverse":true},"axis":null},"y2":{"field":"b"},"detail":{"field":"s"}}},
{"data":{"name":"pk"},"transform":[{"filter":"datum.c=='r'"}],"mark":{"type":"area","color":"#f00000"},"encoding":{"y":{"field":"y","type":"quantitative","stack":null,"scale":{"domain":[0,999],"nice":false,"zero":false,"reverse":true},"axis":null},"y2":{"field":"b"},"detail":{"field":"s"}}},
{"data":{"name":"pk"},"transform":[{"filter":"datum.c=='b'"}],"mark":{"type":"area","color":"#0000b4"},"encoding":{"y":{"field":"y","type":"quantitative","stack":null,"scale":{"domain":[0,999],"nice":false,"zero":false,"reverse":true},"axis":null},"y2":{"field":"b"},"detail":{"field":"s"}}},
{"data":{"name":"pk"},"transform":[{"filter":"datum.c=='o'"}],"mark":{"type":"area","color":"#ffb700"},"encoding":{"y":{"field":"y","type":"quantitative","stack":null,"scale":{"domain":[0,999],"nice":false,"zero":false,"reverse":true},"axis":null},"y2":{"field":"b"},"detail":{"field":"s"}}},
{"data":{"name":"pie"},"transform":[{"filter":"datum.p=='w'"}],"mark":{"type":"arc","outerRadius":70,"fill":"#fff","stroke":"#000","strokeWidth":1.2},"encoding":{"theta":{"field":"a0","type":"quantitative","stack":null,"scale":{"domain":[0,360],"range":[0,6.283185]}},"theta2":{"field":"a1"}}},
{"data":{"name":"pie"},"transform":[{"filter":"datum.p=='d'"}],"mark":{"type":"arc","outerRadius":70,"fill":"#e6e6e6","stroke":"#000","strokeWidth":1.2},"encoding":{"theta":{"field":"a0","type":"quantitative","stack":null,"scale":{"domain":[0,360],"range":[0,6.283185]}},"theta2":{"field":"a1"}}},
{"data":{"name":"pie"},"transform":[{"filter":"datum.p=='k'"}],"mark":{"type":"arc","outerRadius":70,"fill":"#000","stroke":"#000","strokeWidth":1.2},"encoding":{"theta":{"field":"a0","type":"quantitative","stack":null,"scale":{"domain":[0,360],"range":[0,6.283185]}},"theta2":{"field":"a1"}}},
{"data":{"name":"pie"},"transform":[{"filter":"datum.p=='h'&&datum.pie=='L'"}],"mark":{"type":"arc","outerRadius":70,"stroke":"#000","strokeWidth":1.2,"fill":{"gradient":"linear","x1":0,"y1":0,"x2":1.17,"y2":0.73,"stops":[
{"offset":0,"color":"#000"},{"offset":0.029,"color":"#000"},{"offset":0.029,"color":"#fff"},{"offset":0.083,"color":"#fff"},
{"offset":0.083,"color":"#000"},{"offset":0.112,"color":"#000"},{"offset":0.112,"color":"#fff"},{"offset":0.167,"color":"#fff"},
{"offset":0.167,"color":"#000"},{"offset":0.196,"color":"#000"},{"offset":0.196,"color":"#fff"},{"offset":0.25,"color":"#fff"},
{"offset":0.25,"color":"#000"},{"offset":0.279,"color":"#000"},{"offset":0.279,"color":"#fff"},{"offset":0.333,"color":"#fff"},
{"offset":0.333,"color":"#000"},{"offset":0.362,"color":"#000"},{"offset":0.362,"color":"#fff"},{"offset":0.417,"color":"#fff"},
{"offset":0.417,"color":"#000"},{"offset":0.446,"color":"#000"},{"offset":0.446,"color":"#fff"},{"offset":0.5,"color":"#fff"},
{"offset":0.5,"color":"#000"},{"offset":0.529,"color":"#000"},{"offset":0.529,"color":"#fff"},{"offset":0.583,"color":"#fff"},
{"offset":0.583,"color":"#000"},{"offset":0.612,"color":"#000"},{"offset":0.612,"color":"#fff"},{"offset":0.667,"color":"#fff"},
{"offset":0.667,"color":"#000"},{"offset":0.696,"color":"#000"},{"offset":0.696,"color":"#fff"},{"offset":0.75,"color":"#fff"},
{"offset":0.75,"color":"#000"},{"offset":0.779,"color":"#000"},{"offset":0.779,"color":"#fff"},{"offset":0.833,"color":"#fff"},
{"offset":0.833,"color":"#000"},{"offset":0.862,"color":"#000"},{"offset":0.862,"color":"#fff"},{"offset":0.917,"color":"#fff"},
{"offset":0.917,"color":"#000"},{"offset":0.946,"color":"#000"},{"offset":0.946,"color":"#fff"},{"offset":1,"color":"#fff"}]}},
"encoding":{"theta":{"field":"a0","type":"quantitative","stack":null,"scale":{"domain":[0,360],"range":[0,6.283185]}},"theta2":{"field":"a1"}}},
{"data":{"name":"pie"},"transform":[{"filter":"datum.p=='h'&&datum.pie=='R'"}],"mark":{"type":"arc","outerRadius":70,"stroke":"#000","strokeWidth":1.2,"fill":{"gradient":"linear","x1":0,"y1":0,"x2":0.75,"y2":1.16,"stops":[
{"offset":0,"color":"#000"},{"offset":0.029,"color":"#000"},{"offset":0.029,"color":"#fff"},{"offset":0.083,"color":"#fff"},
{"offset":0.083,"color":"#000"},{"offset":0.112,"color":"#000"},{"offset":0.112,"color":"#fff"},{"offset":0.167,"color":"#fff"},
{"offset":0.167,"color":"#000"},{"offset":0.196,"color":"#000"},{"offset":0.196,"color":"#fff"},{"offset":0.25,"color":"#fff"},
{"offset":0.25,"color":"#000"},{"offset":0.279,"color":"#000"},{"offset":0.279,"color":"#fff"},{"offset":0.333,"color":"#fff"},
{"offset":0.333,"color":"#000"},{"offset":0.362,"color":"#000"},{"offset":0.362,"color":"#fff"},{"offset":0.417,"color":"#fff"},
{"offset":0.417,"color":"#000"},{"offset":0.446,"color":"#000"},{"offset":0.446,"color":"#fff"},{"offset":0.5,"color":"#fff"},
{"offset":0.5,"color":"#000"},{"offset":0.529,"color":"#000"},{"offset":0.529,"color":"#fff"},{"offset":0.583,"color":"#fff"},
{"offset":0.583,"color":"#000"},{"offset":0.612,"color":"#000"},{"offset":0.612,"color":"#fff"},{"offset":0.667,"color":"#fff"},
{"offset":0.667,"color":"#000"},{"offset":0.696,"color":"#000"},{"offset":0.696,"color":"#fff"},{"offset":0.75,"color":"#fff"},
{"offset":0.75,"color":"#000"},{"offset":0.779,"color":"#000"},{"offset":0.779,"color":"#fff"},{"offset":0.833,"color":"#fff"},
{"offset":0.833,"color":"#000"},{"offset":0.862,"color":"#000"},{"offset":0.862,"color":"#fff"},{"offset":0.917,"color":"#fff"},
{"offset":0.917,"color":"#000"},{"offset":0.946,"color":"#000"},{"offset":0.946,"color":"#fff"},{"offset":1,"color":"#fff"}]}},
"encoding":{"theta":{"field":"a0","type":"quantitative","stack":null,"scale":{"domain":[0,360],"range":[0,6.283185]}},"theta2":{"field":"a1"}}},
{"data":{"name":"pie"},"transform":[{"filter":"datum.p=='s'&&datum.pie=='L'"}],"mark":{"type":"arc","outerRadius":70,"stroke":"#000","strokeWidth":1.2,"fill":{"gradient":"linear","x1":0,"y1":0,"x2":1,"y2":0,"stops":[
{"offset":0,"color":"#000"},{"offset":0.067,"color":"#000"},{"offset":0.067,"color":"#fff"},{"offset":0.167,"color":"#fff"},
{"offset":0.167,"color":"#000"},{"offset":0.233,"color":"#000"},{"offset":0.233,"color":"#fff"},{"offset":0.333,"color":"#fff"},
{"offset":0.333,"color":"#000"},{"offset":0.4,"color":"#000"},{"offset":0.4,"color":"#fff"},{"offset":0.5,"color":"#fff"},
{"offset":0.5,"color":"#000"},{"offset":0.567,"color":"#000"},{"offset":0.567,"color":"#fff"},{"offset":0.667,"color":"#fff"},
{"offset":0.667,"color":"#000"},{"offset":0.733,"color":"#000"},{"offset":0.733,"color":"#fff"},{"offset":0.833,"color":"#fff"},
{"offset":0.833,"color":"#000"},{"offset":0.9,"color":"#000"},{"offset":0.9,"color":"#fff"},{"offset":1,"color":"#fff"}]}},
"encoding":{"theta":{"field":"a0","type":"quantitative","stack":null,"scale":{"domain":[0,360],"range":[0,6.283185]}},"theta2":{"field":"a1"}}},
{"data":{"name":"pie"},"transform":[{"filter":"datum.p=='s'&&datum.pie=='R'"}],"mark":{"type":"arc","outerRadius":70,"stroke":"#000","strokeWidth":1.2,"fill":{"gradient":"linear","x1":0,"y1":0,"x2":1,"y2":0,"stops":[
{"offset":0,"color":"#000"},{"offset":0.025,"color":"#000"},{"offset":0.025,"color":"#fff"},{"offset":0.0625,"color":"#fff"},
{"offset":0.0625,"color":"#000"},{"offset":0.0875,"color":"#000"},{"offset":0.0875,"color":"#fff"},{"offset":0.125,"color":"#fff"},
{"offset":0.125,"color":"#000"},{"offset":0.15,"color":"#000"},{"offset":0.15,"color":"#fff"},{"offset":0.1875,"color":"#fff"},
{"offset":0.1875,"color":"#000"},{"offset":0.2125,"color":"#000"},{"offset":0.2125,"color":"#fff"},{"offset":0.25,"color":"#fff"},
{"offset":0.25,"color":"#000"},{"offset":0.275,"color":"#000"},{"offset":0.275,"color":"#fff"},{"offset":0.3125,"color":"#fff"},
{"offset":0.3125,"color":"#000"},{"offset":0.3375,"color":"#000"},{"offset":0.3375,"color":"#fff"},{"offset":0.375,"color":"#fff"},
{"offset":0.375,"color":"#000"},{"offset":0.4,"color":"#000"},{"offset":0.4,"color":"#fff"},{"offset":0.4375,"color":"#fff"},
{"offset":0.4375,"color":"#000"},{"offset":0.4625,"color":"#000"},{"offset":0.4625,"color":"#fff"},{"offset":0.5,"color":"#fff"},
{"offset":0.5,"color":"#000"},{"offset":0.525,"color":"#000"},{"offset":0.525,"color":"#fff"},{"offset":0.5625,"color":"#fff"},
{"offset":0.5625,"color":"#000"},{"offset":0.5875,"color":"#000"},{"offset":0.5875,"color":"#fff"},{"offset":0.625,"color":"#fff"},
{"offset":0.625,"color":"#000"},{"offset":0.65,"color":"#000"},{"offset":0.65,"color":"#fff"},{"offset":0.6875,"color":"#fff"},
{"offset":0.6875,"color":"#000"},{"offset":0.7125,"color":"#000"},{"offset":0.7125,"color":"#fff"},{"offset":0.75,"color":"#fff"},
{"offset":0.75,"color":"#000"},{"offset":0.775,"color":"#000"},{"offset":0.775,"color":"#fff"},{"offset":0.8125,"color":"#fff"},
{"offset":0.8125,"color":"#000"},{"offset":0.8375,"color":"#000"},{"offset":0.8375,"color":"#fff"},{"offset":0.875,"color":"#fff"},
{"offset":0.875,"color":"#000"},{"offset":0.9,"color":"#000"},{"offset":0.9,"color":"#fff"},{"offset":0.9375,"color":"#fff"},
{"offset":0.9375,"color":"#000"},{"offset":0.9625,"color":"#000"},{"offset":0.9625,"color":"#fff"},{"offset":1,"color":"#fff"}]}},
"encoding":{"theta":{"field":"a0","type":"quantitative","stack":null,"scale":{"domain":[0,360],"range":[0,6.283185]}},"theta2":{"field":"a1"}}},
{"data":{"name":"rl"},"transform":[{"filter":"datum.k=='lead'"}],"mark":{"type":"rule","color":"#000","strokeWidth":1.4},"encoding":{"x2":{"field":"x2"},"y2":{"field":"y2"}}},
{"data":{"name":"pl"},"transform":[{"filter":"datum.k=='lead'"}],"mark":{"type":"line","color":"#000","strokeWidth":1.4},"encoding":{"order":{"field":"o","type":"quantitative"},"detail":{"field":"s"}}},
{"data":{"name":"pl"},"transform":[{"filter":"datum.k=='gell'"}],"mark":{"type":"line","interpolate":"cardinal-closed","tension":0,"fill":"#c8c8c8","stroke":"#000","strokeWidth":3},"encoding":{"order":{"field":"o","type":"quantitative"},"detail":{"field":"s"}}},
{"data":{"name":"pl"},"transform":[{"filter":"datum.k=='ell'"}],"mark":{"type":"line","interpolate":"catmull-rom","color":"#000","strokeWidth":3},"encoding":{"order":{"field":"o","type":"quantitative"},"detail":{"field":"s"}}},
{"data":{"name":"pl"},"transform":[{"filter":"datum.k=='sell'"}],"mark":{"type":"line","interpolate":"cardinal-closed","tension":0,"fill":"#c8c8c8","stroke":"#000","strokeWidth":3},"encoding":{"order":{"field":"o","type":"quantitative"},"detail":{"field":"s"}}},
{"data":{"name":"rl"},"transform":[{"filter":"datum.k=='arr'"}],"mark":{"type":"rule","color":"#000","strokeWidth":1.8},"encoding":{"x2":{"field":"x2"},"y2":{"field":"y2"}}},
{"data":{"name":"pl"},"transform":[{"filter":"datum.k=='arr'"}],"mark":{"type":"line","color":"#000","strokeWidth":1.8},"encoding":{"order":{"field":"o","type":"quantitative"},"detail":{"field":"s"}}},
{"data":{"name":"rc"},"transform":[{"filter":"datum.k=='sdot'"}],"mark":{"type":"rect","fill":"#e6e6e6","stroke":"#000","strokeWidth":1},"encoding":{"x2":{"field":"x2"},"y2":{"field":"y2"}}},
{"data":{"name":"rc"},"transform":[{"filter":"datum.k=='sblk'"}],"mark":{"type":"rect","fill":"#000","stroke":"#000","strokeWidth":1},"encoding":{"x2":{"field":"x2"},"y2":{"field":"y2"}}},
{"data":{"name":"rc"},"transform":[{"filter":"datum.k=='shat'"}],"mark":{"type":"rect","stroke":"#000","strokeWidth":1,"fill":{"gradient":"linear","x1":0,"y1":0,"x2":1,"y2":1,"stops":[
{"offset":0,"color":"#fff"},{"offset":0.12,"color":"#fff"},{"offset":0.12,"color":"#000"},{"offset":0.27,"color":"#000"},{"offset":0.27,"color":"#fff"},{"offset":0.45,"color":"#fff"},
{"offset":0.45,"color":"#000"},{"offset":0.6,"color":"#000"},{"offset":0.6,"color":"#fff"},{"offset":0.78,"color":"#fff"},{"offset":0.78,"color":"#000"},{"offset":0.93,"color":"#000"},{"offset":0.93,"color":"#fff"},{"offset":1,"color":"#fff"}]}},
"encoding":{"x2":{"field":"x2"},"y2":{"field":"y2"}}},
{"data":{"name":"rc"},"transform":[{"filter":"datum.k=='sstr'"}],"mark":{"type":"rect","stroke":"#000","strokeWidth":1,"fill":{"gradient":"linear","x1":0,"y1":0,"x2":1,"y2":0,"stops":[
{"offset":0,"color":"#000"},{"offset":0.28,"color":"#000"},{"offset":0.28,"color":"#fff"},{"offset":0.38,"color":"#fff"},{"offset":0.38,"color":"#000"},{"offset":0.62,"color":"#000"},
{"offset":0.62,"color":"#fff"},{"offset":0.72,"color":"#fff"},{"offset":0.72,"color":"#000"},{"offset":1,"color":"#000"}]}},
"encoding":{"x2":{"field":"x2"},"y2":{"field":"y2"}}},
{"data":{"name":"rc"},"transform":[{"filter":"datum.k=='dh1'"}],"mark":{"type":"rect","stroke":"#000","strokeWidth":2.5,"fill":{"gradient":"linear","x1":0,"y1":0,"x2":0.87,"y2":1.1,"stops":[
{"offset":0,"color":"#555"},{"offset":0.043,"color":"#555"},{"offset":0.043,"color":"#fff"},{"offset":0.143,"color":"#fff"},
{"offset":0.143,"color":"#555"},{"offset":0.186,"color":"#555"},{"offset":0.186,"color":"#fff"},{"offset":0.286,"color":"#fff"},
{"offset":0.286,"color":"#555"},{"offset":0.329,"color":"#555"},{"offset":0.329,"color":"#fff"},{"offset":0.429,"color":"#fff"},
{"offset":0.429,"color":"#555"},{"offset":0.472,"color":"#555"},{"offset":0.472,"color":"#fff"},{"offset":0.571,"color":"#fff"},
{"offset":0.571,"color":"#555"},{"offset":0.614,"color":"#555"},{"offset":0.614,"color":"#fff"},{"offset":0.714,"color":"#fff"},
{"offset":0.714,"color":"#555"},{"offset":0.757,"color":"#555"},{"offset":0.757,"color":"#fff"},{"offset":0.857,"color":"#fff"},
{"offset":0.857,"color":"#555"},{"offset":0.9,"color":"#555"},{"offset":0.9,"color":"#fff"},{"offset":1,"color":"#fff"}]}},
"encoding":{"x2":{"field":"x2"},"y2":{"field":"y2"}}},
{"data":{"name":"rc"},"transform":[{"filter":"datum.k=='dh2'"}],"mark":{"type":"rect","stroke":"#000","strokeWidth":2.5,"fill":{"gradient":"linear","x1":0,"y1":0,"x2":1.13,"y2":0.183,"stops":[
{"offset":0,"color":"#555"},{"offset":0.0125,"color":"#555"},{"offset":0.0125,"color":"#fff"},{"offset":0.0417,"color":"#fff"},
{"offset":0.0417,"color":"#555"},{"offset":0.0542,"color":"#555"},{"offset":0.0542,"color":"#fff"},{"offset":0.0833,"color":"#fff"},
{"offset":0.0833,"color":"#555"},{"offset":0.0958,"color":"#555"},{"offset":0.0958,"color":"#fff"},{"offset":0.125,"color":"#fff"},
{"offset":0.125,"color":"#555"},{"offset":0.1375,"color":"#555"},{"offset":0.1375,"color":"#fff"},{"offset":0.1667,"color":"#fff"},
{"offset":0.1667,"color":"#555"},{"offset":0.1792,"color":"#555"},{"offset":0.1792,"color":"#fff"},{"offset":0.2083,"color":"#fff"},
{"offset":0.2083,"color":"#555"},{"offset":0.2208,"color":"#555"},{"offset":0.2208,"color":"#fff"},{"offset":0.25,"color":"#fff"},
{"offset":0.25,"color":"#555"},{"offset":0.2625,"color":"#555"},{"offset":0.2625,"color":"#fff"},{"offset":0.2917,"color":"#fff"},
{"offset":0.2917,"color":"#555"},{"offset":0.3042,"color":"#555"},{"offset":0.3042,"color":"#fff"},{"offset":0.3333,"color":"#fff"},
{"offset":0.3333,"color":"#555"},{"offset":0.3458,"color":"#555"},{"offset":0.3458,"color":"#fff"},{"offset":0.375,"color":"#fff"},
{"offset":0.375,"color":"#555"},{"offset":0.3875,"color":"#555"},{"offset":0.3875,"color":"#fff"},{"offset":0.4167,"color":"#fff"},
{"offset":0.4167,"color":"#555"},{"offset":0.4292,"color":"#555"},{"offset":0.4292,"color":"#fff"},{"offset":0.4583,"color":"#fff"},
{"offset":0.4583,"color":"#555"},{"offset":0.4708,"color":"#555"},{"offset":0.4708,"color":"#fff"},{"offset":0.5,"color":"#fff"},
{"offset":0.5,"color":"#555"},{"offset":0.5125,"color":"#555"},{"offset":0.5125,"color":"#fff"},{"offset":0.5417,"color":"#fff"},
{"offset":0.5417,"color":"#555"},{"offset":0.5542,"color":"#555"},{"offset":0.5542,"color":"#fff"},{"offset":0.5833,"color":"#fff"},
{"offset":0.5833,"color":"#555"},{"offset":0.5958,"color":"#555"},{"offset":0.5958,"color":"#fff"},{"offset":0.625,"color":"#fff"},
{"offset":0.625,"color":"#555"},{"offset":0.6375,"color":"#555"},{"offset":0.6375,"color":"#fff"},{"offset":0.6667,"color":"#fff"},
{"offset":0.6667,"color":"#555"},{"offset":0.6792,"color":"#555"},{"offset":0.6792,"color":"#fff"},{"offset":0.7083,"color":"#fff"},
{"offset":0.7083,"color":"#555"},{"offset":0.7208,"color":"#555"},{"offset":0.7208,"color":"#fff"},{"offset":0.75,"color":"#fff"},
{"offset":0.75,"color":"#555"},{"offset":0.7625,"color":"#555"},{"offset":0.7625,"color":"#fff"},{"offset":0.7917,"color":"#fff"},
{"offset":0.7917,"color":"#555"},{"offset":0.8042,"color":"#555"},{"offset":0.8042,"color":"#fff"},{"offset":0.8333,"color":"#fff"},
{"offset":0.8333,"color":"#555"},{"offset":0.8458,"color":"#555"},{"offset":0.8458,"color":"#fff"},{"offset":0.875,"color":"#fff"},
{"offset":0.875,"color":"#555"},{"offset":0.8875,"color":"#555"},{"offset":0.8875,"color":"#fff"},{"offset":0.9167,"color":"#fff"},
{"offset":0.9167,"color":"#555"},{"offset":0.9292,"color":"#555"},{"offset":0.9292,"color":"#fff"},{"offset":0.9583,"color":"#fff"},
{"offset":0.9583,"color":"#555"},{"offset":0.9708,"color":"#555"},{"offset":0.9708,"color":"#fff"},{"offset":1,"color":"#fff"}]}},
"encoding":{"x2":{"field":"x2"},"y2":{"field":"y2"}}},
{"data":{"name":"rl"},"transform":[{"filter":"datum.k=='darr'"}],"mark":{"type":"rule","color":"#000","strokeWidth":3.5},"encoding":{"x2":{"field":"x2"},"y2":{"field":"y2"}}},
{"data":{"name":"pl"},"transform":[{"filter":"datum.k=='darr'"}],"mark":{"type":"line","color":"#000","strokeWidth":3.5},"encoding":{"order":{"field":"o","type":"quantitative"},"detail":{"field":"s"}}},
{"data":{"name":"tx"},"transform":[{"filter":"datum.k=='A'"}],"mark":{"type":"text","fontSize":20,"fontWeight":"bold","align":"center","baseline":"middle"},"encoding":{"text":{"field":"t"}}},
{"data":{"name":"tx"},"transform":[{"filter":"datum.k=='T'"}],"mark":{"type":"text","fontSize":17,"fontWeight":"bold","align":"center","baseline":"middle"},"encoding":{"text":{"field":"t"}}},
{"data":{"name":"tx"},"transform":[{"filter":"datum.k=='VI'"}],"mark":{"type":"text","fontSize":14,"fontWeight":"bold","fontStyle":"italic","align":"center","baseline":"middle"},"encoding":{"text":{"field":"t"}}},
{"data":{"name":"tx"},"transform":[{"filter":"datum.k=='VB'"}],"mark":{"type":"text","fontSize":14,"fontWeight":"bold","align":"center","baseline":"middle"},"encoding":{"text":{"field":"t"}}},
{"data":{"name":"tx"},"transform":[{"filter":"datum.k=='VN'"}],"mark":{"type":"text","fontSize":14,"align":"center","baseline":"middle"},"encoding":{"text":{"field":"t"}}},
{"data":{"name":"tx"},"transform":[{"filter":"datum.k=='ST'"}],"mark":{"type":"text","fontSize":13,"fontWeight":"bold","align":"center","baseline":"middle"},"encoding":{"text":{"field":"t"}}},
{"data":{"name":"tx"},"transform":[{"filter":"datum.k=='TL'"}],"mark":{"type":"text","fontSize":15,"fontWeight":"bold","align":"left","baseline":"middle"},"encoding":{"text":{"field":"t"}}},
{"data":{"name":"tx"},"transform":[{"filter":"datum.k=='BB'"}],"mark":{"type":"text","fontSize":14,"align":"center","baseline":"middle"},"encoding":{"text":{"field":"t"}}},
{"data":{"name":"tx"},"transform":[{"filter":"datum.k=='PL'"}],"mark":{"type":"text","fontSize":12,"fontWeight":"bold","align":"center","baseline":"middle"},"encoding":{"text":{"field":"t"}}},
{"data":{"name":"tx"},"transform":[{"filter":"datum.k=='LG'"}],"mark":{"type":"text","fontSize":12.5,"fontWeight":"bold","align":"left","baseline":"middle"},"encoding":{"text":{"field":"t"}}},
{"data":{"name":"tx"},"transform":[{"filter":"datum.k=='CH'"}],"mark":{"type":"text","fontSize":12.5,"fontWeight":"bold","align":"center","baseline":"middle"},"encoding":{"text":{"field":"t"}}},
{"data":{"name":"tx"},"transform":[{"filter":"datum.k=='CS'"}],"mark":{"type":"text","fontSize":11,"fontWeight":"bold","align":"center","baseline":"middle"},"encoding":{"text":{"field":"t"}}},
{"data":{"name":"tx"},"transform":[{"filter":"datum.k=='CN'"}],"mark":{"type":"text","fontSize":13,"fontWeight":"bold","align":"center","baseline":"middle"},"encoding":{"text":{"field":"t"}}},
{"data":{"name":"tx"},"transform":[{"filter":"datum.k=='CB'"}],"mark":{"type":"text","fontSize":10.5,"fontWeight":"bold","align":"left","baseline":"middle"},"encoding":{"text":{"field":"t"}}},
{"data":{"name":"tx"},"transform":[{"filter":"datum.k=='CR'"}],"mark":{"type":"text","fontSize":10.5,"align":"left","baseline":"middle"},"encoding":{"text":{"field":"t"}}},
{"data":{"name":"tx"},"transform":[{"filter":"datum.k=='DR'"}],"mark":{"type":"text","fontSize":12,"align":"center","baseline":"middle"},"encoding":{"text":{"field":"t"}}},
{"data":{"name":"tx"},"transform":[{"filter":"datum.k=='DB'"}],"mark":{"type":"text","fontSize":15,"fontWeight":"bold","align":"center","baseline":"middle"},"encoding":{"text":{"field":"t"}}}
]
}
